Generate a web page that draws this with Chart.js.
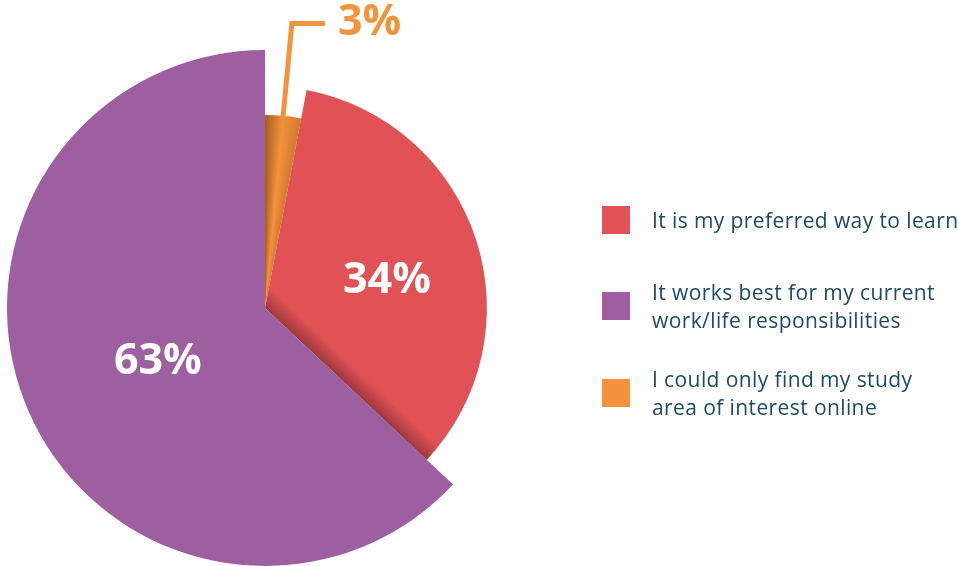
<!DOCTYPE html>
<html>
<head>
<meta charset="utf-8">
<script src="https://cdn.jsdelivr.net/npm/chart.js@4.4.1/dist/chart.umd.min.js"></script>
<style>
  html, body { margin: 0; padding: 0; background: #fff; }
  #wrap { position: relative; width: 958px; height: 566px; overflow: hidden; }
  #pie { position: absolute; left: 0; top: 0; }
  .key { position: absolute; left: 602px; display: flex; align-items: center;
         font-family: "Open Sans", sans-serif; font-size: 21px; line-height: 28px;
         letter-spacing: 0.4px; color: #1c4a68; white-space: nowrap; }
  .key i { display: block; width: 28px; height: 28px; margin-right: 22px; flex: none; }
</style>
</head>
<body>
<div id="wrap">
  <canvas id="pie" width="958" height="566"></canvas>
  <div id="legend"></div>
</div>
<script>
// survey answers, drawn clockwise from 12 o'clock
const answers = [
  'I could only find my study area of interest online',
  'It is my preferred way to learn',
  'It works best for my current work/life responsibilities'
];
const shares = [3, 34, 63];
const colors = ['#f5923c', '#e05256', '#9e5fa0'];

// legend order and line breaks
const legendOrder = [1, 2, 0];
const legendLines = [
  ['I could only find my study', 'area of interest online'],
  ['It is my preferred way to learn'],
  ['It works best for my current', 'work/life responsibilities']
];
const legendTops = [365, 206, 278];

// each slice gets its own radius
const radiusScale = [0.748, 0.86, 1];

const total = shares.reduce((a, b) => a + b, 0);

function centre(chart) {
  const a = chart.chartArea;
  return { x: (a.left + a.right) / 2, y: (a.top + a.bottom) / 2 };
}

function sliceFill(ctx) {
  const chart = ctx.chart;
  const i = ctx.dataIndex;
  if (!chart.chartArea) return colors[i];
  const c = centre(chart);
  const g = chart.ctx;
  if (i === 0) {
    // rounded look on the thin slice
    const f = shares[0] / total;
    const grad = g.createConicGradient(-Math.PI / 2, c.x, c.y);
    grad.addColorStop(0, '#a65e1f');
    grad.addColorStop(f * 0.5, '#f5923c');
    grad.addColorStop(f, '#cf7a2e');
    grad.addColorStop(1, '#cf7a2e');
    return grad;
  }
  if (i === 1) {
    // shadow along the edge that meets the big slice
    const end = (shares[0] + shares[1]) / total * Math.PI * 2 - Math.PI / 2;
    const px = Math.sin(end), py = -Math.cos(end);
    const grad = g.createLinearGradient(c.x, c.y, c.x + px * 18, c.y + py * 18);
    grad.addColorStop(0, '#9c383d');
    grad.addColorStop(1, colors[1]);
    return grad;
  }
  return colors[i];
}

const sliceRadius = {
  id: 'sliceRadius',
  afterDatasetUpdate(chart, args) {
    args.meta.data.forEach((arc, i) => {
      arc.outerRadius = arc.outerRadius * radiusScale[i];
    });
  }
};

// inside labels: angle shift (deg) and distance as share of radius
const labelSpots = [null, { shift: 4.2, dist: 0.566 }, { shift: -2.1, dist: 0.46 }];

const sliceLabels = {
  id: 'sliceLabels',
  afterDatasetsDraw(chart) {
    const g = chart.ctx;
    const arcs = chart.getDatasetMeta(0).data;
    const size = 43;
    const cap = size * 0.714;
    g.save();
    g.font = '700 ' + size + 'px "Open Sans"';
    g.textBaseline = 'alphabetic';
    arcs.forEach((arc, i) => {
      const mid = (arc.startAngle + arc.endAngle) / 2;
      const text = shares[i] + '%';
      const spot = labelSpots[i];
      if (spot) {
        const a = mid + spot.shift * Math.PI / 180;
        const r = arc.outerRadius * spot.dist;
        g.fillStyle = '#ffffff';
        g.textAlign = 'center';
        g.fillText(text, arc.x + Math.cos(a) * r, arc.y + Math.sin(a) * r + cap / 2);
      } else {
        // callout above the thin slice
        const sx = arc.x + Math.cos(mid) * (arc.outerRadius - 1);
        const sy = arc.y + Math.sin(mid) * (arc.outerRadius - 1);
        const topY = 23.5;
        const t = (sy - topY) / -Math.sin(mid);
        const tx = sx + Math.cos(mid) * t;
        const ex = tx + 33;
        g.strokeStyle = colors[i];
        g.lineWidth = 5;
        g.lineJoin = 'miter';
        g.beginPath();
        g.moveTo(sx, sy);
        g.lineTo(tx, topY);
        g.lineTo(ex, topY);
        g.stroke();
        g.fillStyle = colors[i];
        g.textAlign = 'left';
        g.fillText(text, ex + 13, 35);
      }
    });
    g.restore();
  }
};

new Chart(document.getElementById('pie'), {
  type: 'pie',
  data: {
    labels: answers,
    datasets: [{
      data: shares,
      backgroundColor: sliceFill,
      borderWidth: 0,
      hoverOffset: 0
    }]
  },
  options: {
    responsive: false,
    animation: false,
    events: [],
    layout: { padding: { left: 7, top: 50, right: 435, bottom: 0 } },
    plugins: { legend: { display: false }, tooltip: { enabled: false } }
  },
  plugins: [sliceRadius, sliceLabels]
});

// legend
const legend = document.getElementById('legend');
legendOrder.forEach((i) => {
  const row = document.createElement('div');
  row.className = 'key';
  row.style.top = legendTops[i] + 'px';
  const box = document.createElement('i');
  box.style.background = colors[i];
  const txt = document.createElement('span');
  legendLines[i].forEach((line, k) => {
    if (k) txt.appendChild(document.createElement('br'));
    txt.appendChild(document.createTextNode(line));
  });
  row.appendChild(box);
  row.appendChild(txt);
  legend.appendChild(row);
});
</script>
</body>
</html>
